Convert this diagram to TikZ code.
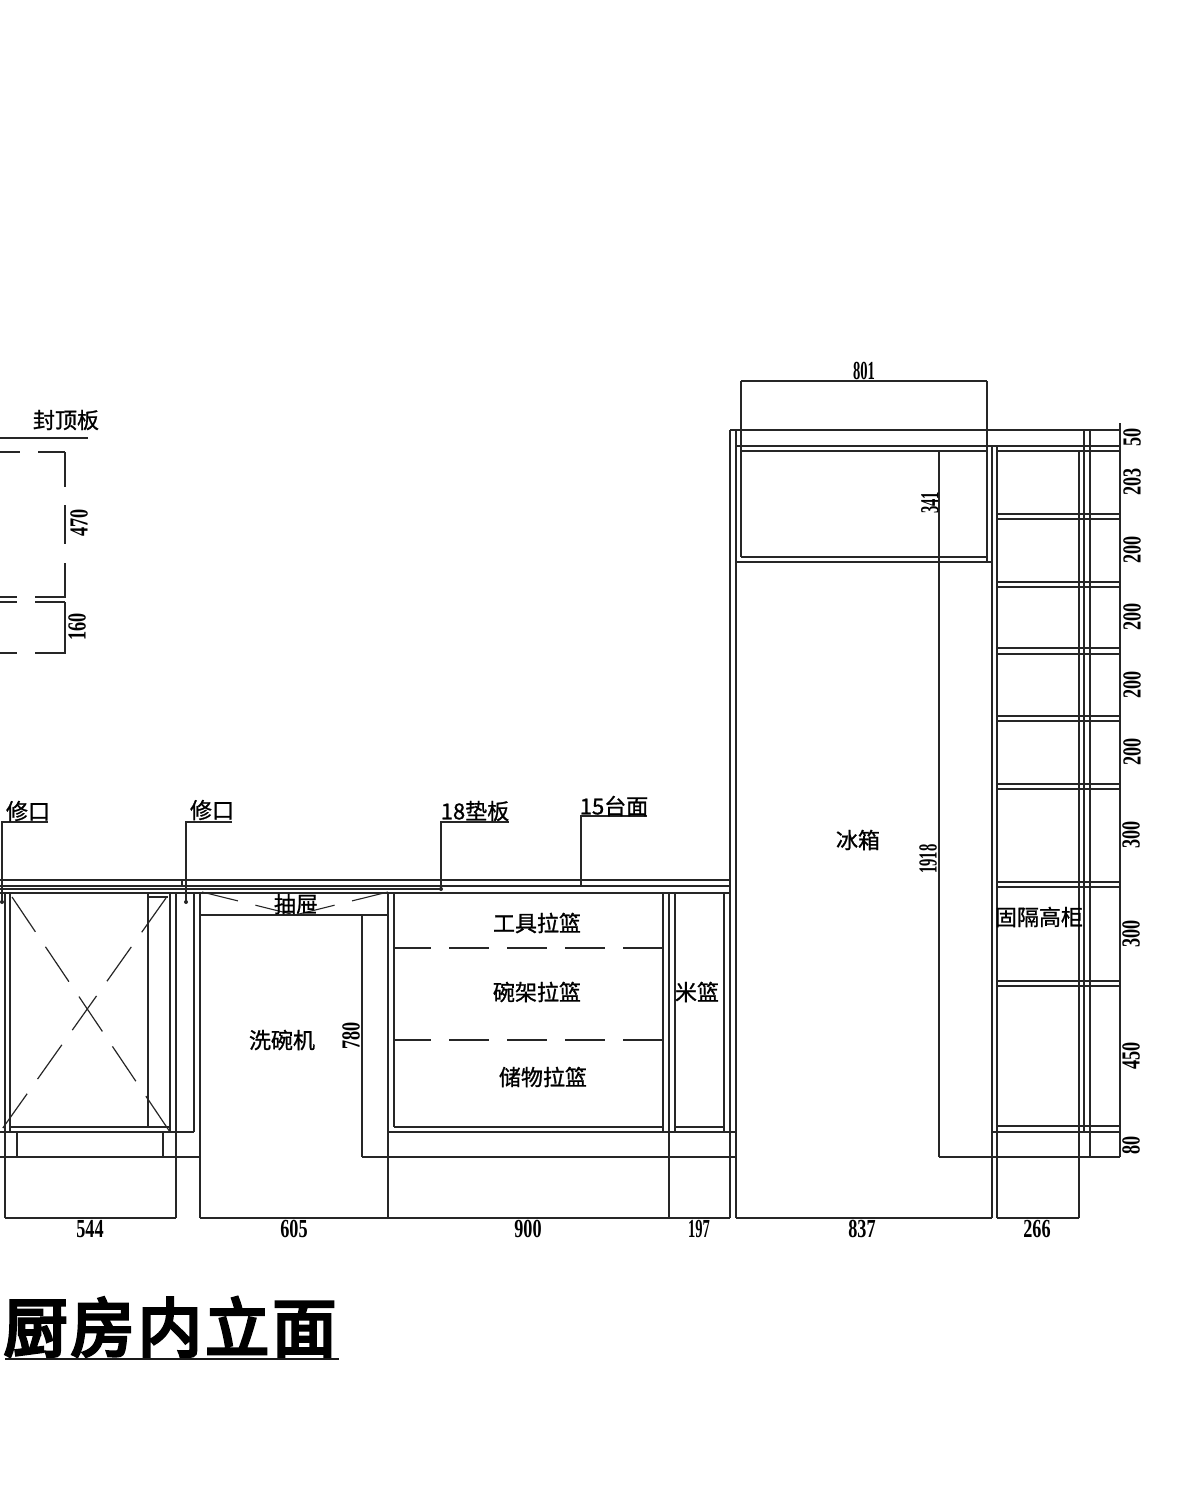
\documentclass[tikz,border=0pt]{standalone}
\usepackage{fontspec}
\setmainfont{Liberation Serif}
\newfontfamily\cjk[FakeBold=1]{Noto Sans CJK SC}
\newfontfamily\cjktitle[FakeBold=5, LetterSpace=5]{Noto Sans CJK SC}
\usepackage{tikz}

\begin{document}
\begin{tikzpicture}[
      x=1pt, y=-1pt,
      wall/.style={draw=black!85, line width=1.2pt},
      dimline/.style={draw=black!85, line width=1.1pt},
      brokenline/.style={draw=black!85, line width=1.2pt, dash pattern=on 40pt off 18pt, dash phase=3pt},
      crossline/.style={draw=black!85, line width=1.2pt, dash pattern=on 42pt off 18pt},
      slopeline/.style={draw=black!85, line width=1.1pt, dash pattern=on 37pt off 18pt},
      dimtext/.style={inner sep=0pt, font=\bfseries\fontsize{26}{26}\selectfont, xscale=.7, transform shape},
      sidetext/.style={inner sep=0pt, font=\bfseries\fontsize{26}{26}\selectfont, rotate=90, xscale=.7, transform shape},
      tightdigits/.style={xscale=.8},
      roomtext/.style={inner sep=0pt, font=\cjk\fontsize{22}{22}\selectfont},
      titletext/.style={inner sep=0pt, font=\cjktitle\fontsize{64}{64}\selectfont}
    ]
    \useasboundingbox (0,0) rectangle (1180,1494);

    % worktop
    \draw [wall] (0,880) -- (730,880);
    \draw [wall] (0,886) -- (730,886);
    \draw [wall] (0,889) -- (441,889);
    \draw [wall] (0,893) -- (730,893);
    \draw [wall] (182,880) -- (182,886);

    % left cabinet
    \draw [wall] (5,893) -- (5,1218);
    \draw [wall] (10,893) -- (10,1132);
    \draw [wall] (11,1127) -- (170,1127);
    \draw [wall] (148,893) -- (148,1127);
    \draw [wall] (148,897) -- (168,897);
    \draw [wall] (170,893) -- (170,1132);
    \draw [wall] (176,893) -- (176,1218);
    \draw [wall] (194,893) -- (194,1132);
    \draw [wall] (200,893) -- (200,1218);
    \draw [wall] (0,1132) -- (194,1132);
    \draw [wall] (0,1157) -- (200,1157);
    \draw [wall] (17,1132) -- (17,1157);
    \draw [wall] (163,1132) -- (163,1157);
    \draw [crossline] (12,897) -- (170,1132);
    \draw [crossline] (166,898) -- (0,1132);

    % drawer and dishwasher
    \draw [wall] (200,915) -- (388,915);
    \draw [wall] (388,893) -- (388,1218);
    \draw [slopeline] (202,892) -- (295,915);
    \draw [slopeline] (388,892) -- (295,915);
    \draw [dimline] (362,915) -- (362,1157);

    % basket cabinet
    \draw [wall] (394,893) -- (394,1127);
    \draw [wall] (663,893) -- (663,1132);
    \draw [wall] (669,893) -- (669,1218);
    \draw [wall] (675,893) -- (675,1132);
    \draw [wall] (724,893) -- (724,1132);
    \draw [wall] (394,1127) -- (663,1127);
    \draw [wall] (675,1127) -- (724,1127);
    \draw [wall] (388,1132) -- (735,1132);
    \draw [wall] (362,1157) -- (735,1157);
    \draw [brokenline] (394,948) -- (663,948);
    \draw [brokenline] (394,1040) -- (663,1040);

    % tall unit
    \draw [wall] (730,430) -- (730,1218);
    \draw [wall] (736,430) -- (736,1218);
    \draw [wall] (730,430) -- (1120,430);
    \draw [wall] (736,446) -- (1120,446);
    \draw [wall] (741,451) -- (987,451);
    \draw [wall] (998,451) -- (1120,451);
    \draw [wall] (741,381) -- (741,557);
    \draw [wall] (987,381) -- (987,561);
    \draw [wall] (741,381) -- (987,381);
    \draw [wall] (741,557) -- (987,557);
    \draw [wall] (736,562) -- (992,562);
    \draw [wall] (992,446) -- (992,1218);
    \draw [wall] (997,446) -- (997,1218);
    \draw [dimline] (939,451) -- (939,1157);
    \draw [wall] (939,1157) -- (1120,1157);
    \draw [dimline] (1079,451) -- (1079,1218);
    \draw [wall] (1084,430) -- (1084,1132);
    \draw [wall] (1090,430) -- (1090,1157);
    \draw [wall] (1120,423) -- (1120,1157);
    \foreach \shelftop/\shelfend in {514/519, 582/587, 648/654, 716/721, 784/789, 882/887, 981/986, 1126/1132}
      {
      \draw [wall] (997,\shelftop) -- (1120,\shelftop);
      \draw [wall] (997,\shelfend) -- (1120,\shelfend);
      }
    \draw [wall] (992,1132) -- (997,1132);

    % bottom dimensions
    \draw [dimline] (5,1218) -- (176,1218);
    \draw [dimline] (200,1218) -- (730,1218);
    \draw [dimline] (736,1218) -- (992,1218);
    \draw [dimline] (997,1218) -- (1079,1218);

    % ceiling panel at the left edge
    \draw [dimline] (0,438) -- (88,438);
    \draw [wall] (0,452) -- (20,452);
    \draw [wall] (38,452) -- (65,452);
    \draw [wall] (65,452) -- (65,487);
    \draw [wall] (65,505) -- (65,544);
    \draw [wall] (65,563) -- (65,598);
    \draw [wall] (65,602) -- (65,654);
    \foreach \paneltop in {597, 602, 653}
      {
      \draw [wall] (0,\paneltop) -- (17,\paneltop);
      \draw [wall] (35,\paneltop) -- (65,\paneltop);
      }

    % leaders
    \draw [dimline] (48,822) -- (2,822) -- (2,902);
    \draw [dimline] (232,822) -- (186,822) -- (186,902);
    \draw [dimline] (509,822) -- (441,822) -- (441,889);
    \draw [dimline] (647,816) -- (581,816) -- (581,885);
    \fill [black!85] (2,902) circle (2pt);
    \fill [black!85] (186,902) circle (2pt);
    \fill [black!85] (441,889) circle (2pt);

    \node [roomtext] (ceilingpanel) at (66,420) {封顶板};
    \node [roomtext] (repairleft) at (28,811) {修口};
    \node [roomtext] (repairright) at (212,810) {修口};
    \node [roomtext] (shim) at (475,811) {18垫板};
    \node [roomtext] (worktop) at (614,806) {15台面};
    \node [roomtext] (drawer) at (296,904) {抽屉};
    \node [roomtext] (dishwasher) at (282,1040) {洗碗机};
    \node [roomtext] (toolbasket) at (537,923) {工具拉篮};
    \node [roomtext] (dishbasket) at (537,992) {碗架拉篮};
    \node [roomtext] (storebasket) at (543,1077) {储物拉篮};
    \node [roomtext] (ricebasket) at (697,992) {米篮};
    \node [roomtext] (fridge) at (858,840) {冰箱};
    \node [roomtext] (tallunit) at (1039,917) {固隔高柜};

    \node [dimtext] (widthA) at (90,1229) {544};
    \node [dimtext] (widthB) at (294,1229) {605};
    \node [dimtext] (widthC) at (528,1229) {900};
    \node [dimtext, tightdigits] (widthD) at (699,1229) {197};
    \node [dimtext] (widthE) at (862,1229) {837};
    \node [dimtext] (widthF) at (1037,1229) {266};
    \node [dimtext, tightdigits] (widthG) at (864,371) {801};

    \node [sidetext] (heightA) at (79,523) {470};
    \node [sidetext] (heightB) at (77,627) {160};
    \node [sidetext] (heightC) at (351,1036) {780};
    \node [sidetext, tightdigits] (heightD) at (930,503) {341};
    \node [sidetext, tightdigits] (heightE) at (928,859) {1918};
    \node [sidetext] (heightF) at (1132,437) {50};
    \node [sidetext] (heightG) at (1132,482) {203};
    \node [sidetext] (heightH) at (1132,550) {200};
    \node [sidetext] (heightI) at (1132,617) {200};
    \node [sidetext] (heightJ) at (1132,685) {200};
    \node [sidetext] (heightK) at (1132,752) {200};
    \node [sidetext] (heightL) at (1131,835) {300};
    \node [sidetext] (heightM) at (1131,934) {300};
    \node [sidetext] (heightN) at (1131,1056) {450};
    \node [sidetext] (heightO) at (1131,1145) {80};

    \node [titletext] (title) at (170,1327) {厨房内立面};
    \draw [line width=1.8pt, black!90] (5,1359) -- (339,1359);

    \end{tikzpicture}
\end{document}
